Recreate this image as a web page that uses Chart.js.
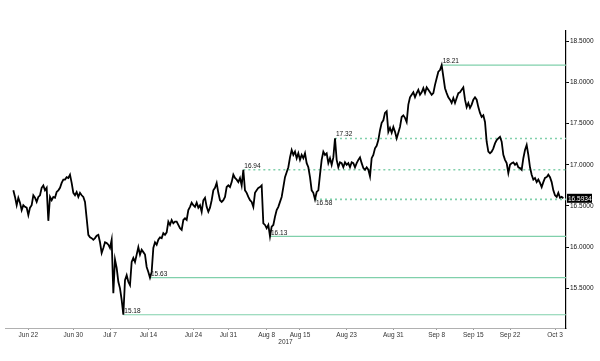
<!DOCTYPE html>
<html>
<head>
<meta charset="utf-8">
<script src="https://cdn.jsdelivr.net/npm/chart.js@4/dist/chart.umd.min.js"></script>
<style>
  html, body { margin: 0; padding: 0; background: #fff; }
  #wrap { width: 600px; height: 361px; }
</style>
</head>
<body>
<div id="wrap"><canvas id="c" width="600" height="361"></canvas></div>
<script>
// bar index of the first close, one close per bar
const firstBar = 5
const prices = [
  16.69, 16.61, 16.51, 16.60, 16.54, 16.45, 16.51, 16.49, 16.48, 16.39,
  16.48, 16.51, 16.63, 16.60, 16.55, 16.61, 16.63, 16.72, 16.75, 16.69,
  16.72, 16.32, 16.61, 16.57, 16.61, 16.60, 16.67, 16.69, 16.72, 16.78,
  16.82, 16.82, 16.85, 16.84, 16.88, 16.78, 16.66, 16.63, 16.67, 16.61,
  16.66, 16.63, 16.61, 16.55, 16.35, 16.15, 16.12, 16.11, 16.09, 16.11,
  16.14, 16.15, 16.06, 15.93, 15.99, 16.06, 16.05, 16.03, 15.99, 16.09,
  15.44, 15.85, 15.75, 15.58, 15.50, 15.36, 15.18, 15.60, 15.66, 15.58,
  15.54, 15.82, 15.87, 15.82, 15.91, 16.00, 15.91, 15.97, 15.94, 15.91,
  15.76, 15.70, 15.63, 15.70, 15.99, 16.06, 16.03, 16.09, 16.12, 16.11,
  16.17, 16.15, 16.18, 16.31, 16.27, 16.33, 16.29, 16.31, 16.31, 16.27,
  16.23, 16.21, 16.33, 16.35, 16.33, 16.45, 16.49, 16.54, 16.51, 16.49,
  16.54, 16.48, 16.51, 16.43, 16.57, 16.60, 16.49, 16.43, 16.48, 16.57,
  16.69, 16.72, 16.78, 16.66, 16.57, 16.55, 16.57, 16.61, 16.73, 16.75,
  16.73, 16.79, 16.88, 16.84, 16.82, 16.79, 16.84, 16.75, 16.94, 16.69,
  16.66, 16.61, 16.57, 16.55, 16.49, 16.66, 16.69, 16.72, 16.73, 16.75,
  16.29, 16.27, 16.23, 16.27, 16.13, 16.25, 16.27, 16.37, 16.45, 16.49,
  16.55, 16.61, 16.73, 16.85, 16.91, 16.97, 17.09, 17.18, 17.12, 17.16,
  17.08, 17.14, 17.06, 17.12, 17.08, 17.14, 17.02, 16.97, 16.85, 16.69,
  16.66, 16.58, 16.67, 16.69, 16.88, 17.06, 17.16, 17.12, 17.14, 17.02,
  17.08, 17.00, 17.09, 17.32, 17.06, 16.97, 17.03, 17.02, 16.97, 17.03,
  17.00, 17.02, 16.97, 17.03, 17.02, 16.97, 17.02, 17.06, 17.09, 17.02,
  16.96, 16.94, 16.97, 16.94, 16.86, 17.08, 17.12, 17.20, 17.23, 17.30,
  17.42, 17.51, 17.54, 17.63, 17.65, 17.40, 17.45, 17.39, 17.46, 17.40,
  17.32, 17.39, 17.46, 17.58, 17.60, 17.57, 17.52, 17.73, 17.82, 17.85,
  17.88, 17.82, 17.87, 17.91, 17.85, 17.88, 17.93, 17.87, 17.94, 17.91,
  17.88, 17.85, 17.87, 17.97, 18.05, 18.13, 18.15, 18.21, 18.07, 17.93,
  17.87, 17.82, 17.79, 17.75, 17.81, 17.75, 17.81, 17.87, 17.88, 17.91,
  17.94, 17.79, 17.70, 17.75, 17.69, 17.73, 17.79, 17.82, 17.79, 17.70,
  17.63, 17.58, 17.60, 17.52, 17.28, 17.16, 17.14, 17.16, 17.20, 17.26,
  17.30, 17.32, 17.34, 17.28, 17.12, 17.06, 17.02, 16.90, 17.00, 17.02,
  17.03, 17.00, 17.02, 16.97, 16.96, 16.94, 17.08, 17.18, 17.24, 17.12,
  16.97, 16.88, 16.82, 16.84, 16.79, 16.82, 16.78, 16.73, 16.79, 16.84,
  16.85, 16.88, 16.85, 16.79, 16.69, 16.63, 16.61, 16.66, 16.60, 16.61,
  16.5934
]
const lastBar = 336.6

const tickBars = [14, 41, 63, 86, 113, 134, 157, 177, 205, 233, 259, 281, 303, 330]
const tickLabels = ['Jun 22', 'Jun 30', 'Jul 7', 'Jul 14', 'Jul 24', 'Jul 31', 'Aug 8',
  'Aug 15', 'Aug 23', 'Aug 31', 'Sep 8', 'Sep 15', 'Sep 22', 'Oct 3']
const yTicks = [15.5, 16, 16.5, 17, 17.5, 18, 18.5]

const levelValues = [18.21, 17.32, 16.94, 16.58, 16.13, 15.63, 15.18]
const levelBars = [262, 198, 143, 186, 159, 87, 71]
const levelDotted = [false, true, true, true, false, false, false]
const levelBelow = [false, false, false, true, false, false, false]

const FONT = { family: 'Liberation Sans, Arial, sans-serif', size: 6.5 }
const LEVEL_COLOR = '#80d0ab'

const priceData = prices.map((p, i) => ({ x: firstBar + i, y: p }))

const levelSets = levelValues.map((v, i) => ({
  data: [{ x: levelBars[i], y: v }, { x: lastBar, y: v }],
  borderColor: LEVEL_COLOR,
  borderWidth: levelDotted[i] ? 1.6 : 1.2,
  borderDash: levelDotted[i] ? [2, 3] : [],
  pointRadius: 0
}))

const overlay = {
  id: 'overlay',
  afterDatasetsDraw(chart) {
    const { ctx, scales: { x, y } } = chart
    ctx.save()
    ctx.font = `${FONT.size}px ${FONT.family}`
    ctx.fillStyle = '#111'
    ctx.textAlign = 'left'
    levelValues.forEach((v, i) => {
      const px = x.getPixelForValue(levelBars[i])
      const py = y.getPixelForValue(v)
      ctx.textBaseline = levelBelow[i] ? 'top' : 'bottom'
      ctx.fillText(v.toFixed(2), px + 1, levelBelow[i] ? py + 1 : py - 0.5)
    })
    // last price tag on the axis
    const ly = y.getPixelForValue(prices[prices.length - 1])
    const left = x.right + 1
    ctx.fillStyle = '#000'
    ctx.fillRect(left, ly - 4.5, 25, 9)
    ctx.fillStyle = '#fff'
    ctx.textBaseline = 'middle'
    ctx.fillText(prices[prices.length - 1].toFixed(4), left + 1, ly + 0.5)
    ctx.restore()
  }
}

new Chart(document.getElementById('c'), {
  type: 'line',
  data: {
    datasets: [
      { data: priceData, borderColor: '#000', borderWidth: 1.8, pointRadius: 0, tension: 0 },
      ...levelSets
    ]
  },
  options: {
    responsive: false,
    animation: false,
    devicePixelRatio: 1,
    layout: { padding: { left: 5, top: 31, right: 0, bottom: 15 } },
    plugins: { legend: { display: false }, tooltip: { enabled: false } },
    scales: {
      x: {
        type: 'linear',
        min: 0,
        max: lastBar,
        afterBuildTicks: s => { s.ticks = tickBars.map(v => ({ value: v })) },
        afterFit: s => { s.height = 18 },
        grid: { drawOnChartArea: false, tickLength: 2, color: '#999' },
        border: { color: '#b0b0b0' },
        ticks: {
          autoSkip: false,
          maxRotation: 0,
          padding: 1,
          color: '#333',
          font: FONT,
          callback: v => tickLabels[tickBars.indexOf(v)] || ''
        },
        title: { display: true, text: '2017', color: '#333', font: FONT, padding: 0 }
      },
      y: {
        type: 'linear',
        position: 'right',
        min: 15.019,
        max: 18.624,
        afterBuildTicks: s => { s.ticks = yTicks.map(v => ({ value: v })) },
        afterFit: s => { s.width = 34 },
        grid: { drawOnChartArea: false, tickLength: 3, color: '#000' },
        border: { color: '#000', width: 1.2 },
        ticks: {
          padding: 1,
          color: '#111',
          font: FONT,
          callback: v => Number(v).toFixed(4)
        }
      }
    }
  },
  plugins: [overlay]
})
</script>
</body>
</html>
